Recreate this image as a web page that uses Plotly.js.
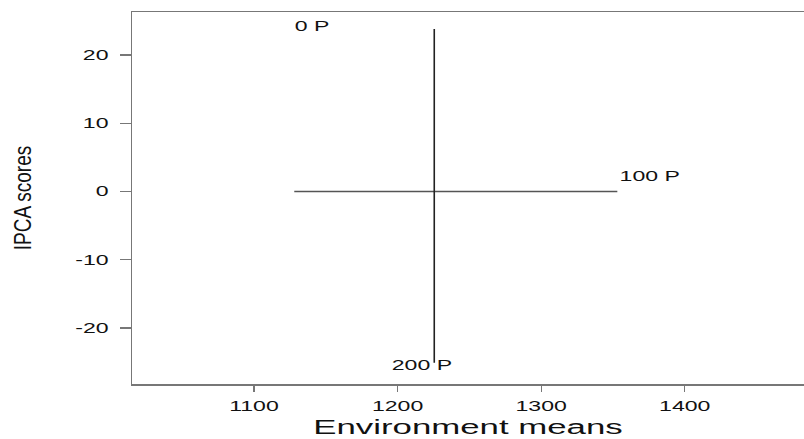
<!DOCTYPE html>
<html>
<head>
<meta charset="utf-8">
<script src="https://cdn.plot.ly/plotly-3.0.1.min.js"></script>
<style>html,body{margin:0;padding:0;background:#fff;}#chart{width:804px;height:439px;}</style>
</head>
<body>
<div id="chart"></div>
<script>
// Environment segments (start/end points in data units)
var hSegX = [1128, 1353];
var hSegY = [0, 0];
var vSegX = [1225.5, 1225.5];
var vSegY = [-25.1, 23.8];

// Environment labels
var envNames = ["0 P", "100 P", "200 P"];
var envLabelX = [1140.4, 1375.6, 1216.9];
var envLabelY = [24.1, 2.0, -25.7];

// Axis ticks
var xTicks = [1100, 1200, 1300, 1400];
var yTicks = [-20, -10, 0, 10, 20];

var FONT = 'Liberation Sans, Arial, Helvetica, sans-serif';

var traces = [
  {x: hSegX, y: hSegY, mode: 'lines', type: 'scatter', line: {color: '#555', width: 1.4}, hoverinfo: 'skip'},
  {x: vSegX, y: vSegY, mode: 'lines', type: 'scatter', line: {color: '#222', width: 1.6}, hoverinfo: 'skip'},
  {x: envLabelX, y: envLabelY, mode: 'text', type: 'scatter', text: envNames,
   textposition: 'middle center', cliponaxis: false,
   textfont: {family: FONT, size: 14, color: '#111'}}
];

var layout = {
  width: 804, height: 439,
  margin: {l: 132, r: 0, t: 12, b: 55},
  paper_bgcolor: '#fff', plot_bgcolor: '#fff',
  showlegend: false,
  font: {family: FONT, color: '#111'},
  xaxis: {
    range: [1015, 1483], tickvals: xTicks, ticktext: xTicks.map(String),
    showgrid: false, zeroline: false,
    showline: true, linecolor: '#777', linewidth: 1.5, mirror: true,
    ticks: 'outside', ticklen: 6, tickcolor: '#777', tickwidth: 1.2,
    ticklabelstandoff: 3,
    tickfont: {size: 14, color: '#111'},
    title: {text: 'Environment means', font: {size: 20, color: '#111'}, standoff: 6}
  },
  yaxis: {
    range: [-28.2, 26.3], tickvals: yTicks, ticktext: yTicks.map(String),
    showgrid: false, zeroline: false,
    showline: true, linecolor: '#777', linewidth: 1.5, mirror: false,
    ticks: 'outside', ticklen: 11, tickcolor: '#777', tickwidth: 1.2,
    ticklabelstandoff: 8,
    tickfont: {size: 14, color: '#111'},
    title: {text: 'IPCA scores', font: {size: 19, color: '#111'}, standoff: 54}
  }
};

// Horizontal stretch of text glyphs (the reference lettering is wide)
function stretch(el, s, anchor) {
  var bb = el.getBBox();
  var m = el.transform.baseVal.consolidate();
  var mx = m ? m.matrix : {a: 1, b: 0, c: 0, d: 1, e: 0, f: 0};
  var lx = anchor === 'end' ? bb.x + bb.width : bb.x + bb.width / 2;
  var ly = bb.y + bb.height / 2;
  var cx = mx.a * lx + mx.c * ly + mx.e;
  var prev = el.getAttribute('transform') || '';
  el.setAttribute('transform', 'translate(' + cx + ',0) scale(' + s + ',1) translate(' + (-cx) + ',0) ' + prev);
}

Plotly.newPlot('chart', traces, layout, {displayModeBar: false, staticPlot: true}).then(function (gd) {
  gd.querySelectorAll('.xtick text').forEach(function (t) { stretch(t, 1.65, 'middle'); });
  gd.querySelectorAll('.ytick text').forEach(function (t) { stretch(t, 1.65, 'end'); });
  gd.querySelectorAll('.textpoint text').forEach(function (t) { stretch(t, 1.65, 'middle'); });
  var xt = gd.querySelector('.xtitle');
  if (xt) stretch(xt, 1.74, 'middle');
  var yt = gd.querySelector('.ytitle');
  if (yt) stretch(yt, 1.3, 'middle');
});
</script>
</body>
</html>
